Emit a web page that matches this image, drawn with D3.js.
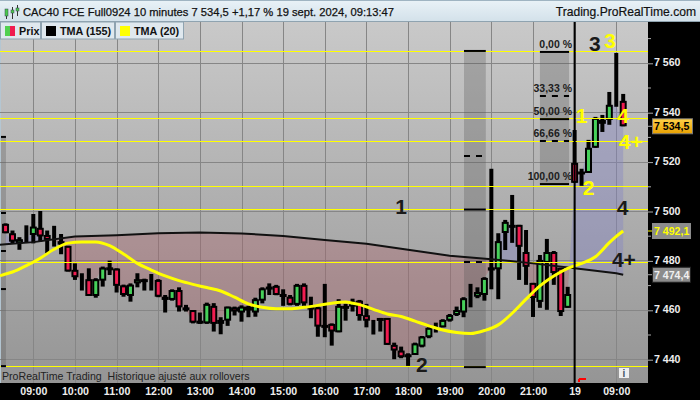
<!DOCTYPE html>
<html><head><meta charset="utf-8">
<script src="https://cdnjs.cloudflare.com/ajax/libs/d3/7.8.5/d3.min.js"></script>
<style>html,body{margin:0;padding:0;background:#000;overflow:hidden}svg{display:block}text{font-family:"Liberation Sans",Arial,sans-serif}</style>
</head><body><div id="c"></div>
<script>
const title="CAC40 FCE Full0924 10 minutes 7 534,5 +1,17 % 19 sept. 2024, 09:13:47";
const site="Trading.ProRealTime.com";
const note="ProRealTime Trading  Historique ajusté aux rollovers";
const opens=[7495.0,7491.2,7487.1,7487.8,7490.5,7493.4,7490.5,7488.2,7488.0,7486.1,7476.4,7472.6,7472.6,7465.8,7472.0,7477.4,7476.9,7470.1,7465.8,7470.9,7472.6,7472.6,7472.3,7465.5,7464.2,7468.2,7461.2,7460.1,7454.7,7454.7,7461.8,7454.5,7455.8,7461.2,7459.1,7461.5,7459.1,7463.9,7469.6,7469.9,7466.6,7465.5,7462.2,7470.3,7461.5,7461.2,7454.1,7454.5,7451.1,7461.8,7461.5,7463.9,7458.0,7455.6,7456.9,7456.9,7446.0,7443.7,7441.0,7441.9,7445.3,7449.1,7452.6,7453.1,7455.8,7458.1,7459.1,7466.2,7465.5,7466.2,7476.1,7476.6,7491.3,7494.6,7494.6,7483.6,7471.1,7463.4,7479.2,7483.6,7477.2,7461.0,7519.7,7516.2,7515.6,7525.8,7537.1,7537.1,7542.8,7544.8];
const highs=[7495.2,7492.3,7489.6,7494.4,7499.0,7500.2,7492.3,7494.2,7490.9,7486.1,7479.0,7475.0,7477.0,7473.0,7477.7,7480.1,7477.0,7470.4,7470.9,7475.0,7472.8,7474.7,7472.6,7466.2,7468.5,7469.3,7462.2,7460.1,7459.1,7463.1,7462.9,7457.2,7461.5,7461.5,7462.0,7461.8,7465.1,7469.3,7470.9,7470.3,7468.5,7466.2,7470.7,7470.9,7465.5,7461.5,7470.7,7454.7,7464.5,7462.6,7464.7,7464.2,7462.6,7456.1,7456.9,7456.9,7446.9,7445.3,7442.6,7446.9,7449.6,7453.1,7455.0,7456.4,7458.5,7461.5,7465.3,7470.7,7469.3,7473.4,7517.3,7491.2,7496.6,7506.7,7494.6,7492.5,7471.1,7482.4,7488.9,7484.0,7477.2,7469.5,7533.0,7517.3,7529.0,7538.3,7539.1,7548.4,7564.2,7547.6];
const lows=[7491.2,7487.1,7484.5,7487.4,7487.1,7487.8,7483.1,7485.8,7482.7,7475.7,7472.3,7468.0,7465.8,7465.1,7469.6,7474.3,7467.2,7465.5,7463.5,7469.3,7468.0,7468.0,7465.3,7459.1,7463.9,7459.5,7459.5,7454.7,7454.5,7454.5,7451.4,7450.3,7453.7,7457.9,7455.4,7457.2,7457.4,7462.8,7466.2,7466.1,7461.8,7462.0,7461.8,7461.8,7456.8,7449.3,7449.1,7445.7,7451.1,7455.8,7459.5,7455.8,7453.1,7450.2,7451.4,7446.0,7440.2,7440.6,7437.5,7441.9,7445.0,7448.7,7451.0,7453.1,7455.4,7457.7,7457.2,7461.2,7464.9,7463.9,7468.5,7464.5,7484.4,7487.3,7472.3,7470.3,7457.3,7461.0,7460.2,7470.3,7457.7,7461.0,7511.6,7510.4,7515.6,7525.8,7532.2,7535.1,7542.4,7534.5];
const closes=[7491.2,7487.8,7488.8,7487.8,7493.9,7489.9,7488.5,7488.2,7486.6,7475.7,7473.4,7472.6,7465.8,7472.6,7477.3,7476.8,7469.9,7466.2,7470.4,7472.6,7471.9,7472.6,7465.5,7464.2,7468.2,7461.2,7460.1,7455.0,7455.8,7462.6,7454.5,7456.1,7461.5,7459.5,7461.5,7459.9,7464.5,7468.9,7468.9,7466.2,7465.8,7462.2,7470.3,7462.8,7460.7,7453.4,7453.1,7451.4,7461.8,7460.8,7463.5,7457.7,7455.8,7455.6,7456.1,7446.0,7443.7,7441.0,7442.2,7446.6,7449.4,7452.9,7452.6,7456.1,7458.1,7460.1,7464.9,7466.2,7467.4,7473.1,7477.4,7488.0,7495.8,7493.8,7485.7,7477.6,7465.0,7480.4,7483.6,7475.1,7459.3,7466.6,7511.6,7515.8,7525.8,7537.9,7535.5,7543.2,7542.8,7534.5];
const tmaLongIdx=[-0.8,0,4,10,16,22,28,34,40,46,52,58,64,70,76,82,88,89];
const tmaLong=[7486.5,7486.7,7487.6,7489.9,7490.4,7491.2,7491.5,7491.1,7490.1,7488.5,7486.9,7484.5,7482.1,7480.7,7479.0,7477.0,7475.0,7474.4];
const tmaShortIdx=[-0.8,0,1,3,5,7,9,11,13,15,17,19,21,23,25,27,29,31,33,35,37,39,41,43,45,47,49,50,51,53,55,57,59,61,63,65,67,69,71,73,75,77,79,81,83,85,87,88,89];
const tmaShort=[7474.0,7474.7,7475.5,7478.1,7481.1,7484.7,7487.2,7487.7,7487.7,7486.2,7482.8,7479.0,7476.3,7473.9,7472.0,7470.5,7469.2,7467.8,7465.3,7462.6,7461.2,7460.6,7460.6,7461.2,7462.0,7462.9,7463.4,7462.9,7462.3,7460.4,7458.5,7457.5,7455.6,7453.7,7452.0,7451.0,7450.6,7451.8,7454.1,7458.8,7464.5,7469.9,7473.9,7477.0,7479.0,7481.7,7487.4,7489.9,7492.1];
const levels=[7564.8,7537.7,7528.3,7510.1,7500.8,7479.4,7437.2];
const priceTicks=[7440,7460,7480,7500,7520,7540,7560];
const priceLabels=["7 440","7 460","7 480","7 500","7 520","7 540","7 560"];
const minorTicks=[7450,7470,7490,7510,7530,7550,7570];
const timeIdx=[4,10,16,22,28,34,40,46,52,58,64,70,76,82,88];
const timeLabels=["09:00","10:00","11:00","12:00","13:00","14:00","15:00","16:00","17:00","18:00","19:00","20:00","21:00","19","09:00"];
const fibPct=["0,00 %","33,33 %","50,00 %","66,66 %","100,00 %"];
const fibLeft=[7530.2,7499.4,7484.0,7468.6,7437.4];
const fibMid=[7565.0,7522.5,7500.8,7479.6,7437.0];
const fibRight=[7564.6,7546.8,7537.4,7528.5,7511.1];
const dividerIdx=82;
const waveBlack=[["1",57,7499],["2",60,7435],["3",84.9,7565],["4",88.9,7498.5],["4+",89.1,7477.5]];
const waveYellow=[["1",83,7536],["2",84,7506.5],["3",87.1,7566],["4",89,7536],["4+",90.1,7525.5]];

const W=700,H=400,plotL=0,plotR=648,plotT=22,plotB=383;
const svg=d3.select("#c").append("svg").attr("width",W).attr("height",H);
const defs=svg.append("defs");
const grad=(id,stops)=>{const g=defs.append("linearGradient").attr("id",id).attr("x1",0).attr("x2",0).attr("y1",0).attr("y2",1);
 stops.forEach(([o,c])=>g.append("stop").attr("offset",o).attr("stop-color",c));};
grad("bg",[[0,"#c9c9c9"],[1,"#959595"]]);
grad("hd",[[0,"#e9f2f7"],[1,"#d3e1ea"]]);
grad("tag",[[0,"#ffd24a"],[1,"#e8a000"]]);
const x=d3.scaleLinear().domain([0,89]).range([5.55,623.2]);
const y=d3.scaleLinear().domain([7460,7560]).range([310.3,63.3]);

svg.append("rect").attr("width",W).attr("height",H).attr("fill","#000");
svg.append("rect").attr("x",plotL).attr("y",plotT).attr("width",plotR-plotL).attr("height",plotB-plotT).attr("fill","url(#bg)");
svg.append("rect").attr("x",0).attr("y",plotT).attr("width",1).attr("height",plotB-plotT).attr("fill","#b4c6d2");

// grid
svg.append("g").selectAll("line").data(timeIdx).join("line").attr("x1",d=>Math.round(x(d))+.5).attr("x2",d=>Math.round(x(d))+.5).attr("y1",plotT).attr("y2",plotB).attr("stroke","#868686");
svg.append("g").selectAll("line").data(priceTicks).join("line").attr("x1",plotL).attr("x2",plotR).attr("y1",d=>Math.floor(y(d))+.5).attr("y2",d=>Math.floor(y(d))+.5).attr("stroke","#868686");

// close vs long TMA fill
const longAt=d3.scaleLinear().domain(tmaLongIdx).range(tmaLong);
let pts=[];
closes.forEach((c,i)=>{
  const t=longAt(i);
  if(i>0){const pc=closes[i-1],pt=longAt(i-1),d0=pc-pt,d1=c-t;
    if(d0*d1<0){const f=d0/(d0-d1),v=pc+(c-pc)*f;pts.push({i:i-1+f,c:v,t:v,s:0});}}
  pts.push({i,c,t,s:Math.sign(c-t)});
});
const area=d3.area().x(d=>x(d.i)).y0(d=>y(d.t)).y1(d=>y(d.c));
svg.append("path").attr("d",area.defined(d=>d.s>=0)(pts)).attr("fill","#8585c4").attr("fill-opacity",.42);
svg.append("path").attr("d",area.defined(d=>d.s<=0)(pts)).attr("fill","#b05560").attr("fill-opacity",.3);

// fib columns
const fibCols=[{v:fibLeft,a:-.66,b:.06},{v:fibMid,a:66.06,b:69.2},{v:fibRight,a:77.0,b:81.2}];
fibCols.forEach(f=>svg.append("rect").attr("x",x(f.a)).attr("width",x(f.b)-x(f.a)).attr("y",y(f.v[0])).attr("height",y(f.v[4])-y(f.v[0])).attr("fill","#555").attr("fill-opacity",.3));

// candles
const g=svg.append("g");
const idx=d3.range(closes.length);
g.selectAll("line").data(idx).join("line").attr("x1",i=>x(i)).attr("x2",i=>x(i)).attr("y1",i=>y(highs[i])).attr("y2",i=>y(lows[i])).attr("stroke","#000").attr("stroke-width",4);
g.selectAll("rect").data(idx.filter(i=>opens[i]!==closes[i])).join("rect")
 .attr("x",i=>x(i)-2.5).attr("width",5)
 .attr("y",i=>y(Math.max(opens[i],closes[i]))+1)
 .attr("height",i=>Math.max(1,Math.abs(y(opens[i])-y(closes[i]))-2))
 .attr("fill",i=>closes[i]>opens[i]?"#46d05a":"#f01c50").attr("stroke","#000").attr("stroke-width",2);

// yellow levels
svg.append("g").selectAll("line").data(levels).join("line").attr("x1",plotL).attr("x2",plotR).attr("y1",d=>Math.floor(y(d))+.5).attr("y2",d=>Math.floor(y(d))+.5).attr("stroke","#ffff00").attr("stroke-width",1);

// fib lines
fibCols.forEach(f=>svg.append("g").selectAll("line").data(f.v).join("line").attr("x1",x(f.a)).attr("x2",x(f.b)).attr("y1",d=>y(d)).attr("y2",d=>y(d)).attr("stroke","#000").attr("stroke-width",2).attr("stroke-dasharray",(d,i)=>i%2?"6 6":null));
svg.append("g").selectAll("text").data(fibPct).join("text").attr("x",572).attr("y",(d,i)=>y(fibRight[i])-4).attr("text-anchor","end").attr("font-size",10.5).attr("font-weight","bold").attr("fill","#1c1c1c").text(d=>d);

// TMAs
const line=d3.line().x(d=>x(d[0])).y(d=>y(d[1]));
svg.append("path").attr("d",line(tmaLongIdx.map((d,i)=>[d,tmaLong[i]]))).attr("fill","none").attr("stroke","#111").attr("stroke-width",2);
svg.append("path").attr("d",d3.line().x(d=>x(d[0])).y(d=>y(d[1])).curve(d3.curveMonotoneX)(tmaShortIdx.map((d,i)=>[d,tmaShort[i]]))).attr("fill","none").attr("stroke","#ffff00").attr("stroke-width",3);

// divider
svg.append("line").attr("x1",x(dividerIdx)).attr("x2",x(dividerIdx)).attr("y1",plotT).attr("y2",plotB).attr("stroke","#000").attr("stroke-width",2);

// wave labels
svg.append("g").selectAll("text").data(waveBlack).join("text").attr("x",d=>x(d[1])).attr("y",d=>y(d[2])).attr("text-anchor","middle").attr("font-size",21).attr("font-weight","bold").attr("fill","#1a1a1a").text(d=>d[0]);
svg.append("g").selectAll("text").data(waveYellow).join("text").attr("x",d=>x(d[1])).attr("y",d=>y(d[2])).attr("text-anchor","middle").attr("font-size",21).attr("font-weight","bold").attr("fill","#ffff00").text(d=>d[0]);

// note
svg.append("text").attr("x",2).attr("y",380).attr("font-size",10.6).attr("fill","#222").attr("xml:space","preserve").text(note);

// axes
svg.append("rect").attr("x",plotR).attr("y",0).attr("width",W-plotR).attr("height",H).attr("fill","#000");
svg.append("rect").attr("x",0).attr("y",plotB).attr("width",W).attr("height",H-plotB).attr("fill","#000");
const yAxis=d3.axisRight(y).tickValues(priceTicks).tickFormat((d,i)=>priceLabels[i]).tickSize(5).tickPadding(1);
const ya=svg.append("g").attr("transform",`translate(${plotR},0)`).call(yAxis);
ya.select(".domain").remove();
ya.selectAll("line").attr("stroke","#aaa");
ya.selectAll("text").attr("fill","#eee").attr("font-size",10.6).attr("font-weight","bold").attr("font-family","Liberation Sans").attr("dy","0.25em");
svg.append("g").selectAll("line").data(minorTicks).join("line").attr("x1",plotR).attr("x2",plotR+3).attr("y1",d=>y(d)).attr("y2",d=>y(d)).attr("stroke","#aaa");
const xAxis=d3.axisBottom(x).tickValues(timeIdx).tickFormat((d,i)=>timeLabels[i]).tickSize(0).tickPadding(4);
const xa=svg.append("g").attr("transform",`translate(0,${plotB})`).call(xAxis);
xa.select(".domain").remove();
xa.selectAll("text").attr("fill","#eee").attr("font-size",10.6).attr("font-weight","bold").attr("font-family","Liberation Sans");

// price tags
const tags=[{v:7534.5,t:"7 534,5",f:"url(#tag)",c:"#000",w:40,s:"#777"},{v:tmaShort[tmaShort.length-1],t:"7 492,1",f:"#8c8c8c",c:"#ffff00",w:38,s:"#8c8c8c"},{v:tmaLong[tmaLong.length-1],t:"7 474,4",f:"#8c8c8c",c:"#f0f0f0",w:38,s:"#222"}];
tags.forEach(d=>{const cy=y(d.v);
 svg.append("line").attr("x1",plotR).attr("x2",plotR+4).attr("y1",cy).attr("y2",cy).attr("stroke",d.c==="#ffff00"?"#ffff00":"#aaa");
 svg.append("rect").attr("x",652.5).attr("y",cy-7.5).attr("width",d.w).attr("height",15).attr("fill",d.f).attr("stroke",d.s);
 svg.append("text").attr("x",654).attr("y",cy+4).attr("font-size",10.6).attr("font-weight","bold").attr("fill",d.c).text(d.t);
});

// red marker & info icon
svg.append("rect").attr("x",579).attr("y",378).attr("width",7).attr("height",2).attr("fill","#f00");
svg.append("rect").attr("x",578).attr("y",379).attr("width",2).attr("height",3).attr("fill","#f00");
svg.append("rect").attr("x",619).attr("y",368).attr("width",10).attr("height",10).attr("fill","#eee");
svg.append("text").attr("x",624).attr("y",377).attr("text-anchor","middle").attr("font-size",10).attr("font-weight","bold").attr("fill","#456").text("i");

// header
svg.append("rect").attr("width",W).attr("height",21.5).attr("fill","url(#hd)");
svg.append("rect").attr("y",21).attr("width",W).attr("height",1).attr("fill","#8fa3b0");
svg.append("rect").attr("width",W).attr("height",1).attr("fill","#9fb4c2");
[[5,6,15,"#4cc94c",8,17],[11,7,12,"#4cc94c",5,17],[16,5,10,"#4cc94c",3,14]].forEach(([a,b,c,col,d,e])=>{
 svg.append("rect").attr("x",a+1).attr("y",d+2).attr("width",1).attr("height",e-d).attr("fill","#333");
 svg.append("rect").attr("x",a).attr("y",b+3).attr("width",3).attr("height",c-b-2).attr("fill",col).attr("stroke","#345").attr("stroke-width",.5);
});
svg.append("text").attr("x",23).attr("y",16).attr("font-size",11.2).attr("fill","#111").attr("stroke","#111").attr("stroke-width",.25).text(title);
svg.append("text").attr("x",696).attr("y",16).attr("text-anchor","end").attr("font-size",12.1).attr("fill","#111").attr("stroke","#111").attr("stroke-width",.2).text(site);

// legend
const legend=[{x:1,w:40,t:"Prix",tx:19},{x:42,w:73,t:"TMA (155)",tx:60,c:"#000"},{x:116,w:68,t:"TMA (20)",tx:134,c:"#ffff00"}];
legend.forEach(d=>{
 svg.append("rect").attr("x",d.x-.5).attr("y",22).attr("width",d.w).attr("height",17).attr("fill","#dfe8ee").attr("stroke","#8fa3b0");
 svg.append("text").attr("x",d.tx).attr("y",35).attr("font-size",10.8).attr("font-weight","bold").attr("fill","#111").text(d.t);
 if(d.c) svg.append("rect").attr("x",d.x+4).attr("y",26).attr("width",10).attr("height",10).attr("fill",d.c);
});
svg.append("rect").attr("x",5).attr("y",26).attr("width",5).attr("height",10).attr("fill","#50d050");
svg.append("rect").attr("x",10).attr("y",26).attr("width",5).attr("height",10).attr("fill","#f01c50");
</script></body></html>
